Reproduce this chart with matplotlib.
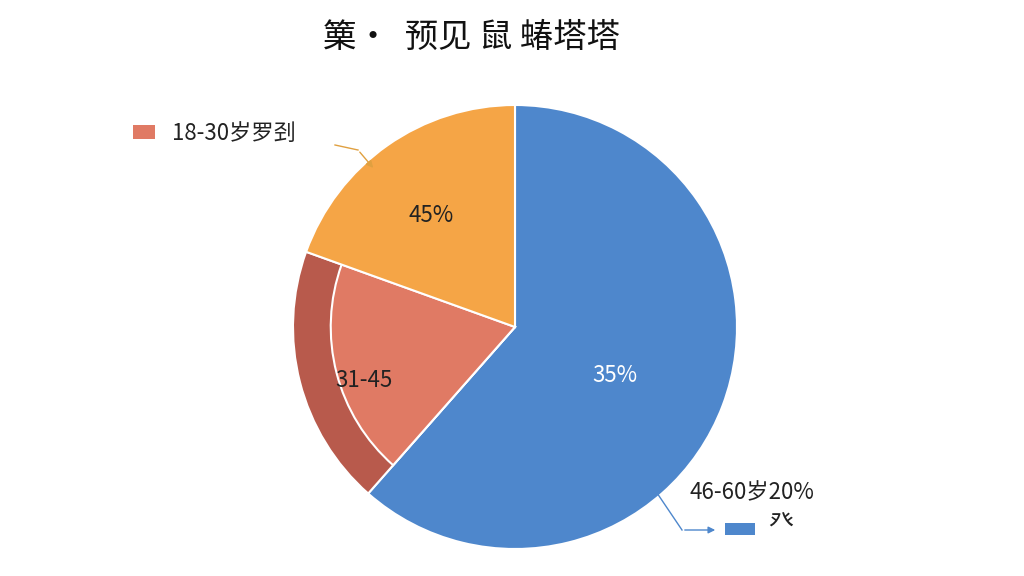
import matplotlib.pyplot as plt
from matplotlib.patches import Wedge

plt.rcParams['font.family'] = ['Noto Sans CJK SC', 'DejaVu Sans']

# slice shares and their printed labels
shares = [61.5, 19.0, 19.5]           # blue, red, orange (clockwise from top)
slice_labels = ['35%', '31-45', '45%']
colors = ['#4E87CC', '#E07A64', '#F5A546']
rim_color = '#B85A4C'
title = '篥·  预见 鼠 蝽塔塔'

fig = plt.figure(figsize=(10.24, 5.76), dpi=100)
R = 222
ax = fig.add_axes([(515 - R) / 1024, (576 - 327 - R) / 576, 2 * R / 1024, 2 * R / 576])
ax.set_xlim(-1, 1)
ax.set_ylim(-1, 1)
ax.set_aspect('equal')
ax.axis('off')

start = 90.0
angles = []
for s in shares:
    sweep = s / sum(shares) * 360
    angles.append((start - sweep, start))
    start -= sweep

# blue
a0, a1 = angles[0]
ax.add_patch(Wedge((0, 0), 1, a0, a1, fc=colors[0], ec='white', lw=1.5))
# red with darker rim
a0, a1 = angles[1]
ax.add_patch(Wedge((0, 0), 1, a0, a1, fc=rim_color, ec='white', lw=1.5))
ax.add_patch(Wedge((0, 0), 0.83, a0, a1, fc=colors[1], ec='white', lw=1.5))
# orange
a0, a1 = angles[2]
ax.add_patch(Wedge((0, 0), 1, a0, a1, fc=colors[2], ec='white', lw=1.5))

ax.text(0.45, -0.22, slice_labels[0], color='white', fontsize=16, ha='center', va='center')
ax.text(-0.68, -0.24, slice_labels[1], color='#222222', fontsize=16, ha='center', va='center')
ax.text(-0.38, 0.5, slice_labels[2], color='#222222', fontsize=16, ha='center', va='center')

fig.text(0.46, 0.935, title, fontsize=24, ha='center', va='center', color='#111111')

# legend-like callouts
fig.patches.append(plt.Rectangle((133 / 1024, 1 - 139 / 576), 22 / 1024, 14 / 576,
                                 transform=fig.transFigure, fc=colors[1]))
fig.text(172 / 1024, 1 - 133 / 576, '18-30岁罗刭', fontsize=16, va='center', color='#222222')
fig.add_artist(plt.Line2D([335 / 1024, 358 / 1024],
                          [1 - 145 / 576, 1 - 150 / 576],
                          color='#E0A040', lw=1, transform=fig.transFigure))
fig.add_artist(plt.Annotation('', xy=(375 / 1024, 1 - 170 / 576), xytext=(358 / 1024, 1 - 150 / 576),
                              xycoords='figure fraction', textcoords='figure fraction',
                              arrowprops=dict(arrowstyle='-|>', color='#E0A040', lw=1)))

fig.text(690 / 1024, 1 - 493 / 576, '46-60岁20%', fontsize=16, va='center', color='#222222')
fig.patches.append(plt.Rectangle((725 / 1024, 1 - 535 / 576), 30 / 1024, 12 / 576,
                                 transform=fig.transFigure, fc=colors[0]))
fig.text(768 / 1024, 1 - 524 / 576, '癶', fontsize=18, va='center', color='#222222')
fig.add_artist(plt.Line2D([655 / 1024, 682 / 1024],
                          [1 - 490 / 576, 1 - 530 / 576],
                          color='#4E87CC', lw=1, transform=fig.transFigure))
fig.add_artist(plt.Annotation('', xy=(718 / 1024, 1 - 530 / 576), xytext=(682 / 1024, 1 - 530 / 576),
                              xycoords='figure fraction', textcoords='figure fraction',
                              arrowprops=dict(arrowstyle='-|>', color='#4E87CC', lw=1)))

fig.savefig('out.png', dpi=100, facecolor='white')
